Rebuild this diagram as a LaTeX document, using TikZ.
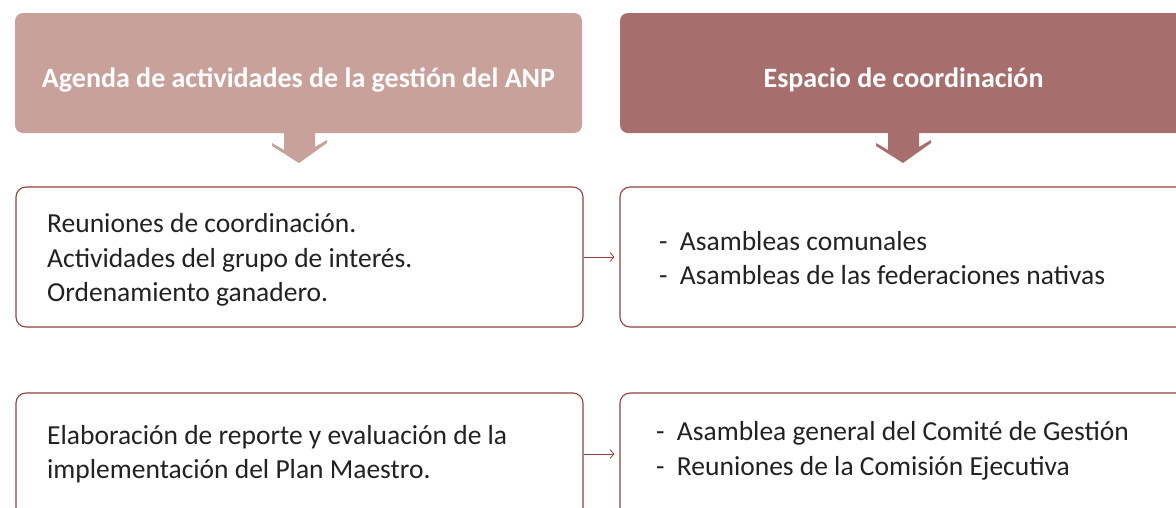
\documentclass[tikz,border=0pt]{standalone}
\usepackage{fontspec}
\setmainfont{Carlito}
\usetikzlibrary{arrows.meta}
\definecolor{hdrA}{HTML}{C8A19A}
\definecolor{hdrB}{HTML}{A66F6D}
\definecolor{brd}{HTML}{953F3F}
\definecolor{txt}{HTML}{222222}
\tikzset{
  hdr/.style={rounded corners=8pt, minimum height=120pt, inner sep=0pt},
  hdrtxt/.style={text=white, inner sep=0pt, font=\fontsize{28}{32}\selectfont\bfseries},
  bx/.style={draw=brd, line width=1.1pt, rounded corners=10pt, fill=white, minimum height=140pt, inner sep=0pt},
  btxt/.style={anchor=west, text=txt, align=left, font=\fontsize{27.5}{34.5}\selectfont, inner sep=0pt},
  conn/.style={draw=brd, line width=0.8pt, -{Straight Barb[length=4pt,width=9pt]}},
}
\begin{document}
\begin{tikzpicture}[x=1pt,y=-1pt]
\clip (0,0) rectangle (1176,507);
\fill[white] (0,0) rectangle (1176,507);
% headers
\node[hdr, fill=hdrA, minimum width=567pt] (h1) at (298.5,73) {};
\node[hdr, fill=hdrB, minimum width=580pt] (h2) at (910,73) {};
\node[hdrtxt] (h1t) at (298.5,80) {Agenda de actividades de la gestión del ANP};
\node[hdrtxt] (h2t) at (903.5,80) {Espacio de coordinación};
% header down arrows
\fill[hdrA] (284,133) -- ++(0,17) -- ++(-12,-7) -- ++(0,3) -- (299,163) -- ++(28,-20) -- ++(0,-3) -- ++(-12,7) -- ++(0,-17) -- cycle;
\fill[hdrB] (888,133) -- ++(0,17) -- ++(-12,-7) -- ++(0,3) -- (903,163) -- ++(28,-20) -- ++(0,-3) -- ++(-12,7) -- ++(0,-17) -- cycle;
% boxes
\node[bx, minimum width=567pt] (b1) at (299.5,257) {};
\node[bx, minimum width=600pt] (b2) at (920,257) {};
\node[bx, minimum width=567pt] (b3) at (299.5,463) {};
\node[bx, minimum width=600pt] (b4) at (920,463) {};
% texts
\node[btxt] (t1) at (47,260) {Reuniones de coordinación.\\Actividades del grupo de interés.\\Ordenamiento ganadero.};
\node[btxt] (t2) at (659,258) {-\hspace{0.45em}Asambleas comunales\\-\hspace{0.45em}Asambleas de las federaciones nativas};
\node[btxt] (t3) at (47,454) {Elaboración de reporte y evaluación de la\\implementación del Plan Maestro.};
\node[btxt] (t4) at (656,451) {-\hspace{0.45em}Asamblea general del Comité de Gestión\\-\hspace{0.45em}Reuniones de la Comisión Ejecutiva};
% connectors
\draw[conn] (b1.east) -- ([xshift=-5pt]b1.east -| b2.west);
\draw[conn] ([yshift=9pt]b3.east) -- ([xshift=-5pt,yshift=9pt]b3.east -| b4.west);
\end{tikzpicture}
\end{document}
